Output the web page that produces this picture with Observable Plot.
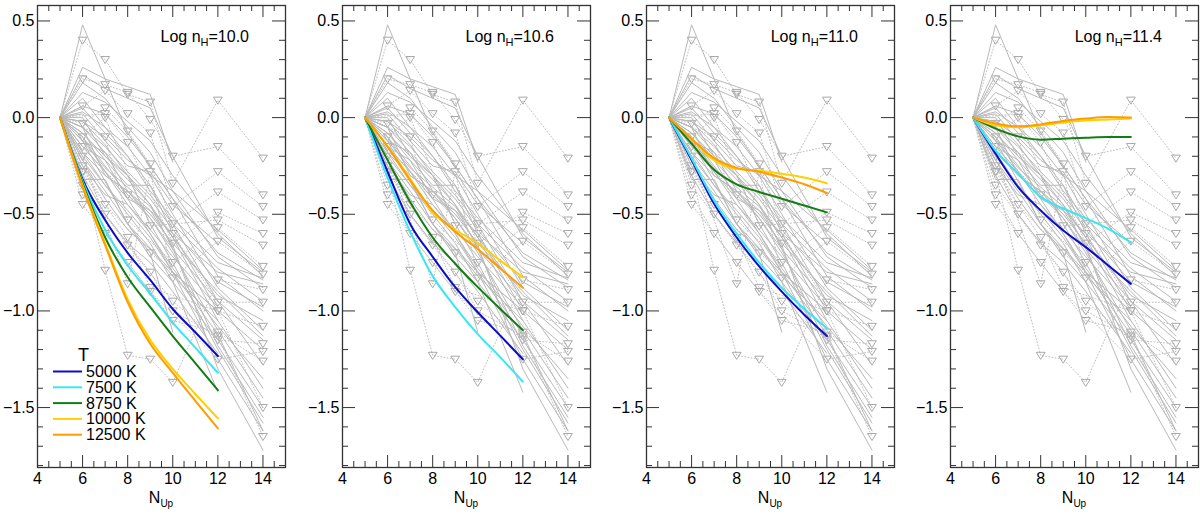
<!DOCTYPE html>
<html>
<head>
<meta charset="utf-8">
<script src="https://cdn.jsdelivr.net/npm/d3@7"></script>
<script src="https://cdn.jsdelivr.net/npm/@observablehq/plot@0.6"></script>
<style>
  body { margin: 0; background: #fff; }
  #chart { position: relative; width: 1200px; height: 514px; overflow: hidden; background: #fff; }
  #chart .panel { position: absolute; top: 0; }
</style>
</head>
<body>
<div id="chart"></div>
<script>
// upper level of the transition, columns of the observed ratios
const levels = [5, 6, 7, 8, 9, 10, 11, 12, 14];

// observed decrements (solid grey lines)
const obsSolid = [
  [0, 0.48, null, -0.08, null, -0.42, null, -0.82, -1.00],
  [0, 0.26, 0.20, 0.16, 0.12, -0.23, null, null, null],
  [0, 0.22, 0.15, 0.10, 0.05, -0.20, null, -0.62, -0.80],
  [0, 0.13, 0.08, -0.02, -0.12, -0.30, null, -0.60, -0.82],
  [0, 0.06, 0.02, -0.10, -0.25, -0.42, null, -0.70, -0.84],
  [0, 0.03, -0.05, -0.15, -0.30, -0.38, null, -0.58, -0.79],
  [0, -0.02, -0.10, -0.22, -0.30, -0.50, null, -0.88, -1.10],
  [0, -0.05, -0.15, -0.28, -0.40, -0.55, null, -0.95, -1.28],
  [0, -0.08, -0.20, -0.32, -0.45, -0.62, null, -1.05, -1.40],
  [0, -0.10, -0.25, -0.40, -0.52, -0.70, null, -1.10, -1.45],
  [0, -0.12, -0.18, -0.30, -0.55, -0.75, null, -1.20, -1.58],
  [0, -0.15, -0.28, -0.45, -0.60, -0.80, null, -1.25, -1.62],
  [0, -0.18, -0.30, -0.38, -0.48, -0.66, null, -1.30, -1.72],
  [0, -0.20, -0.35, -0.50, -0.65, -0.85, null, -1.42, null],
  [0, -0.22, -0.38, -0.55, -0.70, -1.11, null, null, null],
  [0, -0.25, -0.40, -0.45, -0.58, -0.72, null, -0.98, null],
  [0, -0.08, -0.22, -0.35, -0.35, -0.60, null, -0.80, -0.86],
  [0, 0.02, -0.12, -0.25, -0.28, -0.45, null, -0.65, null],
  [0, -0.05, -0.30, -0.38, -0.50, -0.65, null, -0.90, -1.13],
  [0, -0.15, -0.22, -0.42, -0.48, -0.60, null, -1.00, -1.20],
  [0, 0.10, null, -0.20, -0.35, -0.55, null, -0.78, -0.95],
  [0, -0.30, -0.50, -0.65, -0.75, -0.90, null, -1.22, null],
  [0, -0.12, -0.33, -0.55, -0.72, -0.85, null, -1.15, -1.50],
  [0, 0.00, -0.20, -0.30, -0.42, -0.58, null, -0.85, -0.98],
  [0, -0.32, -0.32, -0.55, null, -0.80, null, -1.00, null],
  [0, -0.05, -0.18, -0.38, -0.52, -0.68, null, -0.95, -1.15],
  [0, -0.10, -0.28, -0.42, -0.60, -0.78, null, -1.08, -1.35],
  [0, 0.05, -0.08, -0.20, -0.38, -0.52, null, -0.75, -0.83],
  [0, -0.18, -0.35, -0.48, -0.62, -0.80, null, -1.12, -1.62],
  [0, -0.02, -0.14, -0.30, -0.45, -0.68, null, -1.18, -1.55],
  [0, 0.18, 0.10, -0.05, -0.18, -0.38, null, -0.72, -0.88],
  [0, -0.22, -0.42, -0.58, -0.68, -0.82, null, -1.05, null],
  [0, -0.12, -0.26, -0.36, -0.46, -0.62, null, -0.92, -1.05]
];

// upper limits (dotted grey lines with open triangles)
const obsLimits = [
  [0, 0.40, 0.30, 0.12, 0.08, -0.34, null, 0.09, -0.21],
  [0, 0.20, 0.17, 0.13, -0.01, -0.20, null, -0.15, -0.40],
  [0, 0.06, 0.14, 0.02, -0.08, -0.46, null, -0.28, -0.46],
  [0, -0.03, 0.05, -0.07, -0.24, -0.55, null, -0.385, -0.53],
  [0, null, 0.02, -0.13, null, -0.65, null, -0.49, -0.60],
  [0, -0.10, 0.00, null, -0.56, null, null, -0.53, -0.66],
  [0, null, -0.10, -0.53, null, -0.75, null, -0.57, -0.77],
  [0, -0.20, null, -0.86, -0.28, -0.83, null, -0.64, -0.81],
  [0, -0.28, -0.79, -1.23, -1.25, -1.37, null, -0.84, -0.89],
  [0, -0.15, null, -0.40, null, -0.60, null, -0.955, -0.955],
  [0, -0.25, -0.45, null, -0.70, null, null, -1.00, -1.08],
  [0, -0.35, null, -0.66, null, -0.95, null, -1.15, -1.17],
  [0, -0.40, -0.60, null, -0.90, null, null, -1.25, -1.21],
  [0, -0.45, null, -0.75, null, -1.05, null, -1.11, -1.26],
  [0, -0.28, null, -0.62, -0.88, null, null, -1.00, -1.50],
  [0, null, -0.50, null, -0.80, -1.00, null, -1.13, -1.65]
];

// model curves
const modelLevels = [5, 6, 7, 8, 9, 10, 11, 12];
const temps = ["5000 K", "7500 K", "8750 K", "10000 K", "12500 K"];
const densities = ["10.0", "10.6", "11.0", "11.4"];

const model100 = [
  [0, -0.32, -0.53, -0.70, -0.84, -0.99, -1.11, -1.233],
  [0, -0.33, -0.58, -0.765, -0.91, -1.06, -1.19, -1.32],
  [0, -0.34, -0.62, -0.826, -0.98, -1.13, -1.27, -1.41],
  [0, -0.35, -0.65, -0.94, -1.15, -1.30, -1.43, -1.556],
  [0, -0.36, -0.66, -0.955, -1.17, -1.32, -1.465, -1.608]
];
const model106 = [
  [0, -0.28, -0.55, -0.72, -0.877, -1.007, -1.128, -1.25],
  [0, -0.31, -0.59, -0.82, -0.98, -1.12, -1.24, -1.366],
  [0, -0.22, -0.437, -0.62, -0.756, -0.877, -0.99, -1.10],
  [0, -0.15, -0.316, -0.49, -0.58, -0.65, -0.74, -0.825],
  [0, -0.15, -0.325, -0.48, -0.59, -0.68, -0.78, -0.88]
];
const model110 = [
  [0, -0.22, -0.446, -0.62, -0.77, -0.90, -1.02, -1.13],
  [0, -0.21, -0.43, -0.60, -0.75, -0.88, -0.99, -1.09],
  [0, -0.135, -0.27, -0.345, -0.385, -0.42, -0.455, -0.49],
  [0, -0.11, -0.22, -0.265, -0.275, -0.29, -0.31, -0.34],
  [0, -0.11, -0.21, -0.26, -0.28, -0.31, -0.345, -0.39]
];
const model114 = [
  [0, -0.187, -0.36, -0.48, -0.584, -0.67, -0.765, -0.86],
  [0, -0.17, -0.29, -0.41, -0.47, -0.52, -0.575, -0.645],
  [0, -0.057, -0.097, -0.114, -0.109, -0.104, -0.10, -0.10],
  [0, -0.04, -0.05, -0.04, -0.025, -0.015, -0.01, -0.005],
  [0, -0.03, -0.045, -0.035, -0.017, -0.005, 0.003, 0.0]
];
const models = [model100, model106, model110, model114];

const tempColors = ["#0c0cc8", "#3ae6f2", "#137d13", "#ffd000", "#ff9c00"];

const toRows = list => list.flatMap((ys, id) =>
  ys.map((y, k) => ({id, x: levels[k], y})).filter(d => d.y != null));
const solidRows = toRows(obsSolid);
const limitRows = toRows(obsLimits);

// open downward triangle
const triDown = {
  draw(ctx, size) {
    const r = Math.sqrt(size / Math.PI);
    ctx.moveTo(-r, -r * 0.7);
    ctx.lineTo(r, -r * 0.7);
    ctx.lineTo(0, r * 0.9);
    ctx.closePath();
  }
};

const mL = 37, innerW = 248, mT = 5, mB = 47, H = 514, innerH = H - mT - mB;
const majorX = [6, 8, 10, 12, 14];
const minorX = d3.range(9, 30).map(k => k / 2).filter(v => v % 2 !== 0);
const majorY = [-1.5, -1.0, -0.5, 0.0, 0.5];
const minorY = d3.range(-18, 6).map(k => k / 10).filter(v => Math.abs(v * 2 - Math.round(v * 2)) > 1e-6);
const lefts = [0, 305, 609, 913];
const tickColor = "#333";

const chart = d3.select("#chart");

models.forEach((m, i) => {
  const modelRows = temps.flatMap((t, j) => modelLevels.map((x, k) => ({T: t, x, y: m[j][k]})));
  const mR = i === 3 ? 2 : 19;
  const svg = Plot.plot({
    width: mL + innerW + mR,
    height: H,
    marginTop: mT,
    marginBottom: mB,
    marginLeft: mL,
    marginRight: mR,
    x: {domain: [4, 15]},
    y: {domain: [-1.81, 0.58]},
    color: {domain: temps, range: tempColors},
    style: {fontFamily: "'Liberation Sans', Arial, sans-serif", fontSize: "16px", color: "#000", background: "#fff"},
    marks: [
      Plot.line(limitRows, {x: "x", y: "y", z: "id", stroke: "#bfbfbf", strokeWidth: 1, strokeDasharray: "1,2.2"}),
      Plot.dot(limitRows.filter(d => d.x > 5), {x: "x", y: "y", symbol: triDown, r: 4.4, stroke: "#a9a9a9", fill: "none", strokeWidth: 1}),
      Plot.line(solidRows, {x: "x", y: "y", z: "id", stroke: "#b9b9b9", strokeWidth: 1}),
      Plot.line(modelRows, {x: "x", y: "y", z: "T", stroke: "T", strokeWidth: 2, curve: "monotone-x"}),
      // inward ticks on all four sides
      Plot.ruleX(majorX, {x: d => d, insetTop: innerH - 12, stroke: tickColor}),
      Plot.ruleX(minorX, {x: d => d, insetTop: innerH - 6, stroke: tickColor}),
      Plot.ruleX(majorX, {x: d => d, insetBottom: innerH - 12, stroke: tickColor}),
      Plot.ruleX(minorX, {x: d => d, insetBottom: innerH - 6, stroke: tickColor}),
      Plot.ruleY(majorY, {y: d => d, insetRight: innerW - 13, stroke: tickColor}),
      Plot.ruleY(minorY, {y: d => d, insetRight: innerW - 6, stroke: tickColor}),
      Plot.ruleY(majorY, {y: d => d, insetLeft: innerW - 13, stroke: tickColor}),
      Plot.ruleY(minorY, {y: d => d, insetLeft: innerW - 6, stroke: tickColor}),
      Plot.frame({stroke: tickColor, strokeWidth: 1.3}),
      Plot.axisX({ticks: [4, 6, 8, 10, 12, 14], tickSize: 0, tickPadding: 5, tickFormat: "d", label: null}),
      Plot.axisY({ticks: majorY, tickSize: 0, tickPadding: 3, tickFormat: ".1f", label: null})
    ]
  });

  const s = d3.select(svg);
  // panel title with subscript
  const t = s.append("text")
    .attr("x", mL + innerW - 36).attr("y", 42)
    .attr("text-anchor", "end").attr("font-size", 16).attr("fill", "#000");
  t.append("tspan").text("Log n");
  t.append("tspan").attr("font-size", 11).attr("dy", 4).text("H");
  t.append("tspan").attr("dy", -4).text("=" + densities[i]);

  // x label N_Up
  const xl = s.append("text")
    .attr("x", mL + innerW / 2).attr("y", 503)
    .attr("text-anchor", "middle").attr("font-size", 16).attr("fill", "#000");
  xl.append("tspan").text("N");
  xl.append("tspan").attr("font-size", 10).attr("dy", 4).text("Up");

  if (i === 0) {
    const lg = s.append("g").attr("font-size", 16).attr("fill", "#000").attr("text-anchor", "start");
    lg.append("text").attr("x", 78).attr("y", 361).attr("font-size", 18).text("T");
    temps.forEach((name, j) => {
      const yb = 377 + j * 15.8;
      lg.append("line").attr("x1", 53).attr("x2", 82).attr("y1", yb - 5.5).attr("y2", yb - 5.5)
        .attr("stroke", tempColors[j]).attr("stroke-width", 2);
      lg.append("text").attr("x", 86).attr("y", yb).text(name);
    });
  }

  chart.append("div").attr("class", "panel").style("left", lefts[i] + "px").node().appendChild(svg);
});
</script>
</body>
</html>
